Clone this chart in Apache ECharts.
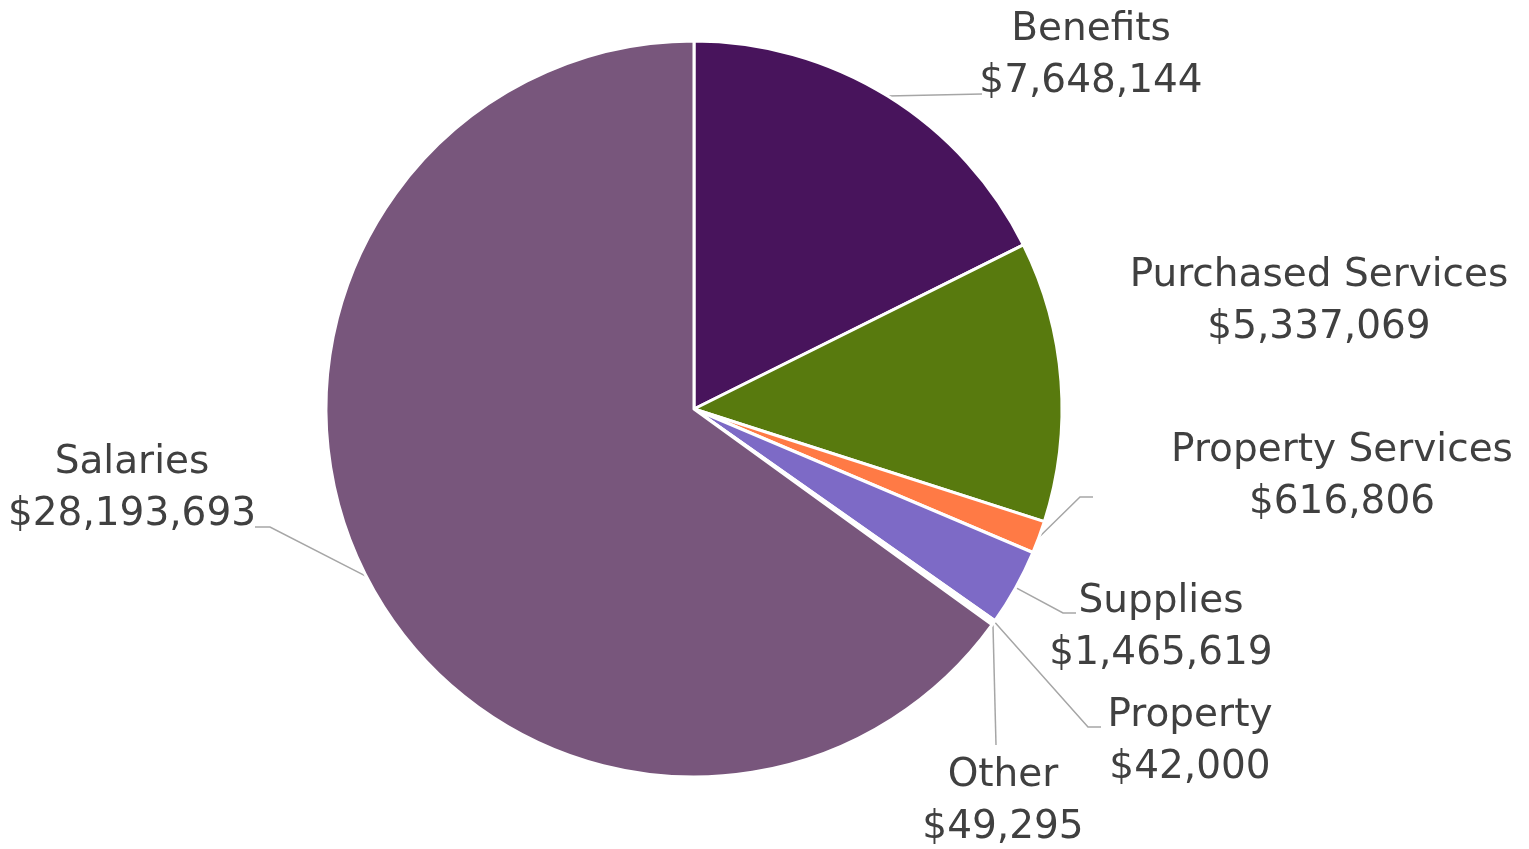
<!DOCTYPE html>
<html>
<head>
<meta charset="utf-8">
<script src="https://cdn.jsdelivr.net/npm/echarts@6/dist/echarts.min.js"></script>
<style>
  html, body { margin: 0; padding: 0; background: #ffffff; }
  #chart { width: 1529px; height: 849px; }
</style>
</head>
<body>
<div id="chart"></div>
<script>
// Expense categories, clockwise from 12 o'clock
const categories = ['Benefits', 'Purchased Services', 'Property Services', 'Supplies', 'Property', 'Other', 'Salaries'];
const amounts = [7648144, 5337069, 616806, 1465619, 42000, 49295, 28193693];
const sliceColors = ['#48145c', '#587a0e', '#ff7a45', '#7d6ac6', '#7d6ac6', '#78567c', '#78567c'];

// Label placement: text centre and leader-line bend points (null = no leader line)
const labelPlacement = {
  'Benefits':           { x: 1091, y: 56,  line: [[982, 94]] },
  'Purchased Services': { x: 1319, y: 302, line: null },
  'Property Services':  { x: 1342, y: 477, line: [[1080, 497], [1093, 497]] },
  'Supplies':           { x: 1161, y: 628, line: [[1063, 613], [1076, 613]] },
  'Property':           { x: 1190, y: 742, line: [[1088, 727], [1101, 727]] },
  'Other':              { x: 1003, y: 802, line: [[996, 745]] },
  'Salaries':           { x: 132,  y: 489, line: [[270, 527], [255, 527]] }
};

const money = v => '$' + v.toLocaleString('en-US');

const chart = echarts.init(document.getElementById('chart'), null, { renderer: 'canvas' });

chart.setOption({
  animation: false,
  series: [{
    type: 'pie',
    center: [694, 409],
    radius: 368,
    startAngle: 90,
    clockwise: true,
    minAngle: 0,
    avoidLabelOverlap: false,
    data: categories.map((name, i) => ({
      name: name,
      value: amounts[i],
      itemStyle: { color: sliceColors[i] }
    })),
    itemStyle: { borderColor: '#ffffff', borderWidth: 3 },
    label: {
      show: true,
      position: 'outside',
      formatter: p => p.name + '\n' + money(p.value),
      fontFamily: '"DejaVu Sans", sans-serif',
      fontSize: 39,
      lineHeight: 52,
      color: '#404040',
      align: 'center'
    },
    labelLine: {
      show: true,
      length: 20,
      length2: 20,
      lineStyle: { color: '#a6a6a6', width: 1.5 }
    },
    labelLayout: function (params) {
      const name = categories[params.dataIndex];
      const place = labelPlacement[name];
      const out = { x: place.x, y: place.y, align: 'center', verticalAlign: 'middle' };
      if (params.labelLinePoints && place.line) {
        out.labelLinePoints = [params.labelLinePoints[0]].concat(place.line);
      } else {
        out.labelLinePoints = [[0, 0], [0, 0]];
      }
      return out;
    },
    emphasis: { disabled: true }
  }]
});
</script>
</body>
</html>
